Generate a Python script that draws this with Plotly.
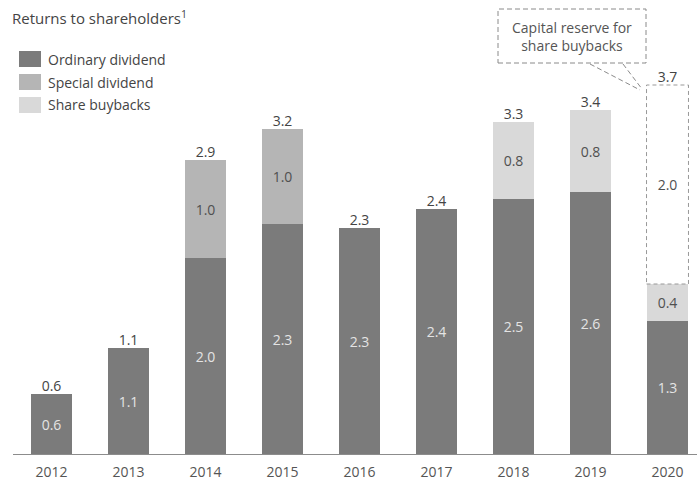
import plotly.graph_objects as go

years = ["2012", "2013", "2014", "2015", "2016", "2017", "2018", "2019", "2020"]
ordinary = [0.60, 1.06, 1.96, 2.30, 2.26, 2.45, 2.55, 2.62, 1.33]
special = [0, 0, 0.98, 0.95, 0, 0, 0, 0, 0]
buybacks = [0, 0, 0, 0, 0, 0, 0.77, 0.82, 0.37]
reserve = [0, 0, 0, 0, 0, 0, 0, 0, 1.99]

ordinary_lbl = ["0.6", "1.1", "2.0", "2.3", "2.3", "2.4", "2.5", "2.6", "1.3"]
special_lbl = ["", "", "1.0", "1.0", "", "", "", "", ""]
buyback_lbl = ["", "", "", "", "", "", "0.8", "0.8", "0.4"]
reserve_lbl = ["", "", "", "", "", "", "", "", "2.0"]
total_lbl = ["0.6", "1.1", "2.9", "3.2", "2.3", "2.4", "3.3", "3.4", "3.7"]

series_names = ["Ordinary dividend", "Special dividend", "Share buybacks"]
colors = ["#7b7b7b", "#b5b5b5", "#d9d9d9"]

FONT = "Open Sans"
W, H = 697, 481
ML, MR, MT, MB = 13, 0, 14, 27
PW, PH = W - ML - MR, H - MT - MB
BARW = 0.545


def px(x):
    return (x - ML) / PW


def py(y):
    return (H - MB - y) / PH


totals = [o + s + b + r for o, s, b, r in zip(ordinary, special, buybacks, reserve)]
idx = list(range(len(years)))

fig = go.Figure()


def bar(vals, lbls, color, txtcolor, name):
    xs = [i for i, v in zip(idx, vals) if v > 0]
    ys = [v for v in vals if v > 0]
    ts = [t for t, v in zip(lbls, vals) if v > 0]
    fig.add_trace(go.Bar(
        x=xs, y=ys, text=ts, name=name, width=BARW,
        marker=dict(color=color, line=dict(width=0)),
        textposition="inside", insidetextanchor="middle",
        textfont=dict(family=FONT, size=14, color=txtcolor),
        showlegend=False, hoverinfo="skip", cliponaxis=False,
    ))


bar(ordinary, ordinary_lbl, colors[0], "#e4e4e4", series_names[0])
bar(special, special_lbl, colors[1], "#505050", series_names[1])
bar(buybacks, buyback_lbl, colors[2], "#505050", series_names[2])
bar(reserve, reserve_lbl, "#ffffff", "#505050", "Capital reserve")

fig.add_trace(go.Scatter(
    x=idx, y=totals, text=total_lbl, mode="text", textposition="top center",
    textfont=dict(family=FONT, size=14, color="#444444"),
    showlegend=False, hoverinfo="skip", cliponaxis=False,
))

shapes = []
# dashed outline of the capital reserve segment
for i, r in enumerate(reserve):
    if r > 0:
        base = ordinary[i] + special[i] + buybacks[i]
        shapes.append(dict(type="rect", xref="x", yref="y",
                           x0=i - BARW / 2, x1=i + BARW / 2, y0=base, y1=base + r,
                           line=dict(color="#999999", width=1, dash="4px,3px"),
                           fillcolor="rgba(0,0,0,0)", layer="above"))

# callout box
shapes.append(dict(type="rect", xref="paper", yref="paper",
                   x0=px(498), x1=px(646), y0=py(63), y1=py(9),
                   line=dict(color="#8a8a8a", width=1, dash="5px,3px")))
shapes.append(dict(type="line", xref="paper", yref="paper",
                   x0=px(590), y0=py(64), x1=px(640), y1=py(90),
                   line=dict(color="#8a8a8a", width=1, dash="5px,3px")))
shapes.append(dict(type="line", xref="paper", yref="paper",
                   x0=px(623), y0=py(64), x1=px(642), y1=py(89),
                   line=dict(color="#8a8a8a", width=1, dash="5px,3px")))

annotations = [
    dict(text="Capital reserve for<br>share buybacks", xref="paper", yref="paper",
         x=px(572), y=py(36), showarrow=False, xanchor="center", yanchor="middle",
         font=dict(family=FONT, size=14, color="#555555")),
    dict(text="Returns to shareholders<sup>1</sup>", xref="paper", yref="paper",
         x=px(10), y=py(18), showarrow=False, xanchor="left", yanchor="middle",
         font=dict(family=FONT, size=15, color="#444444")),
]

# legend
rows = [59, 82, 105]
for name, col, yc in zip(series_names, colors, rows):
    shapes.append(dict(type="rect", xref="paper", yref="paper",
                       x0=px(19), x1=px(41), y0=py(yc + 8), y1=py(yc - 8),
                       fillcolor=col, line=dict(width=0)))
    annotations.append(dict(text=name, xref="paper", yref="paper",
                            x=px(46), y=py(yc), showarrow=False,
                            xanchor="left", yanchor="middle",
                            font=dict(family=FONT, size=14, color="#444444")))

fig.update_layout(
    width=W, height=H,
    margin=dict(l=ML, r=MR, t=MT, b=MB, pad=0),
    barmode="stack", bargap=0.455,
    plot_bgcolor="white", paper_bgcolor="white",
    shapes=shapes, annotations=annotations,
    showlegend=False,
    xaxis=dict(range=[-0.5, -0.5 + PW / 77], tickmode="array", tickvals=idx, ticktext=years,
               showline=True, linecolor="#8c8c8c", linewidth=1, showgrid=False,
               zeroline=False, ticks="", fixedrange=True, ticklabelstandoff=5,
               tickfont=dict(family=FONT, size=14, color="#555555")),
    yaxis=dict(range=[0, PH / 100], visible=False, showgrid=False, zeroline=False),
)

fig.write_html("out.html", config={"displayModeBar": False},
               post_script="document.body.style.margin='0';document.body.style.overflow='hidden';")
